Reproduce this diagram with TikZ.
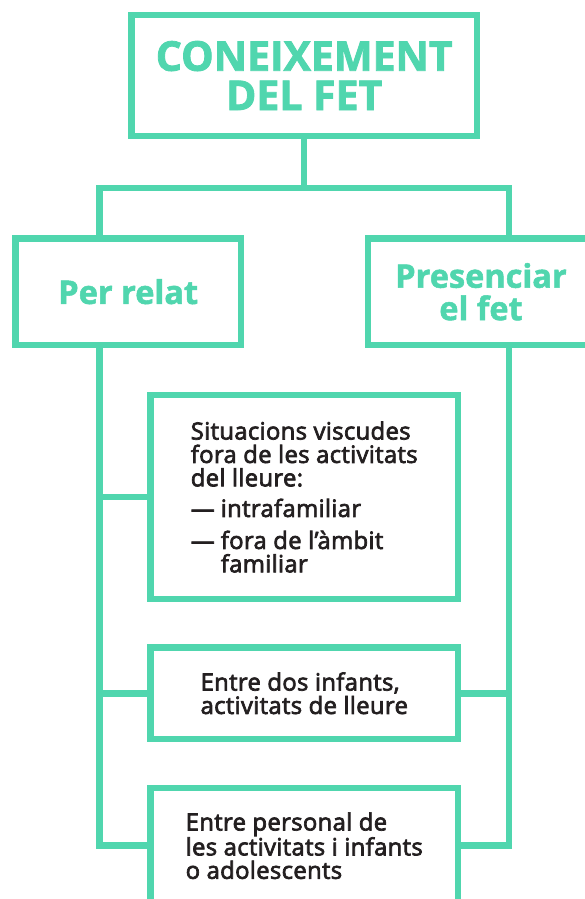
\documentclass[tikz,border=0pt]{standalone}
\usepackage{fontspec}
\setmainfont{Open Sans}
\newfontfamily\headfont{Open Sans}
\newfontfamily\bodyfont{Open Sans}[LetterSpace=1.5]
\newcommand\heavytext[2]{\special{pdf:literal direct 2 Tr #1 w}#2\special{pdf:literal direct 0 Tr}}
\definecolor{mint}{RGB}{80,214,174}
\definecolor{ink}{RGB}{35,31,32}
\tikzset{
  frame/.style={draw=mint, line width=6.5pt, fill=white, inner sep=0pt, line join=miter},
  link/.style={draw=mint, line width=6.5pt, line join=miter},
  titletext/.style={text=mint, font=\headfont\bfseries\fontsize{41}{39.3}\selectfont, align=center},
  headtext/.style={text=mint, font=\headfont\bfseries\fontsize{32.5}{32.4}\selectfont, align=center},
  bodytext/.style={text=ink, font=\bodyfont\fontsize{23.8}{23.4}\selectfont, align=left},
}
\begin{document}
\begin{tikzpicture}[x=1pt,y=1pt]
\useasboundingbox (0,0) rectangle (585,-899);
\clip (0,0) rectangle (585,-899);
\fill[white] (0,0) rectangle (585,-899);
\coordinate (hl) at (99.5,-188);
\coordinate (hr) at (509,-188);
\node[frame, titletext, minimum width=345.7pt, minimum height=120.6pt] (top) at (304.2,-75.5) {\heavytext{0.8}{CONEIXEMENT\\DEL FET}};
\node[frame, headtext, minimum width=225.7pt, minimum height=106.5pt] (left) at (128.2,-291.75) {\heavytext{0.5}{Per relat}};
\node[frame, headtext, minimum width=226pt, minimum height=106.5pt] (right) at (481,-291.75) {\heavytext{0.5}{Presenciar\\el fet}};
\node[frame, bodytext, minimum width=307.5pt, minimum height=204pt] (b1) at (304.25,-497) {\heavytext{0.7}{Situacions viscudes\\fora de les activitats\\del lleure:\\[7.2pt]\makebox[30pt][l]{—}intrafamiliar\\[8.6pt]\makebox[30pt][l]{—}fora de l’àmbit\\\hspace*{30pt}familiar}};
\node[frame, bodytext, minimum width=307.5pt, minimum height=91.5pt] (b2) at (304.25,-693.25) {\heavytext{0.7}{Entre dos infants,\\activitats de lleure}};
\node[frame, bodytext, minimum width=307.5pt, minimum height=115.4pt] (b3) at (304.25,-845.7) {\heavytext{0.7}{Entre personal de\\les activitats i infants\\o adolescents}};
\draw[link] (top.south) -- (top.south |- hl);
\draw[link] (hl |- left.north) -- (hl) -- (hr) -- (hr |- right.north);
\draw[link] (hl |- left.south) -- (hl |- b3.west) -- (b3.west);
\draw[link] (hl |- b1.west) -- (b1.west);
\draw[link] (hl |- b2.west) -- (b2.west);
\draw[link] (hr |- right.south) -- (hr |- b3.east) -- (b3.east);
\draw[link] (hr |- b2.east) -- (b2.east);
\end{tikzpicture}
\end{document}
